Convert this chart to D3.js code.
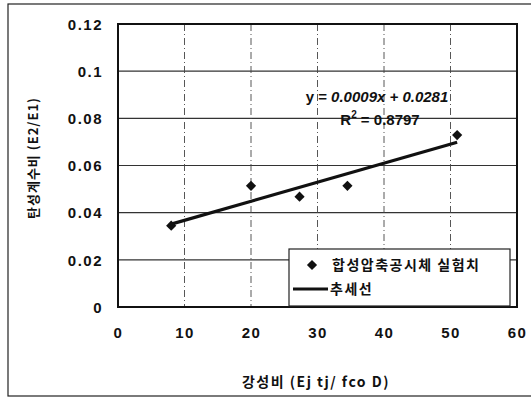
<!DOCTYPE html>
<html>
<head>
<meta charset="utf-8">
<script src="https://cdn.jsdelivr.net/npm/d3@7"></script>
<style>
body { margin: 0; background: #fff; }
text { font-family: "Liberation Sans", Arial, sans-serif; fill: #111; }
.kr { font-family: "Noto Sans CJK KR", sans-serif; }
</style>
</head>
<body>
<div id="chart"></div>
<script>
// stiffness ratio vs modulus ratio (test specimens)
let xValues = [8, 20, 27.3, 34.5, 51];
let yValues = [0.0345, 0.0514, 0.0468, 0.0514, 0.0729];
let xTicks = [0, 10, 20, 30, 40, 50, 60];
let yTicks = [0, 0.02, 0.04, 0.06, 0.08, 0.1, 0.12];
let yTickLabels = ["0", "0.02", "0.04", "0.06", "0.08", "0.1", "0.12"];
let eqText = "0.0009x + 0.0281";
let r2Text = "0.8797";
let legendLabels = ["합성압축공시체 실험치", "추세선"];

let W = 531, H = 398;
let margin = { top: 24, right: 14, bottom: 91, left: 118 };
let width = W - margin.left - margin.right;
let height = H - margin.top - margin.bottom;

let svg = d3.select("#chart").append("svg")
	.attr("width", W)
	.attr("height", H);

//outer frame
svg.append("rect")
	.attr("x", 8).attr("y", 4)
	.attr("width", W).attr("height", 392)
	.attr("fill", "none").attr("stroke", "#222").attr("stroke-width", 1.2);

let g = svg.append("g")
	.attr("transform", `translate(${margin.left}, ${margin.top})`);

let x = d3.scaleLinear().domain([0, 60]).range([0, width]);
let y = d3.scaleLinear().domain([0, 0.12]).range([height, 0]);

//grid lines
g.selectAll(".hgrid")
	.data(yTicks.slice(1, -1))
	.enter().append("line")
	.attr("x1", 0).attr("x2", width)
	.attr("y1", d => y(d)).attr("y2", d => y(d))
	.attr("stroke", "#333").attr("stroke-width", 1.1);
g.selectAll(".vgrid")
	.data(xTicks.slice(1, -1))
	.enter().append("line")
	.attr("y1", 0).attr("y2", height)
	.attr("x1", d => x(d)).attr("x2", d => x(d))
	.attr("stroke", "#444").attr("stroke-width", 0.9)
	.attr("stroke-dasharray", "7,3,1,3");

//plot border
g.append("rect")
	.attr("width", width).attr("height", height)
	.attr("fill", "none").attr("stroke", "#111").attr("stroke-width", 2);

//axes (tick labels only)
let xAxis = g.append("g")
	.attr("transform", `translate(0, ${height})`)
	.call(d3.axisBottom(x).tickValues(xTicks).tickSize(0).tickPadding(20));
let yAxis = g.append("g")
	.call(d3.axisLeft(y).tickValues(yTicks).tickSize(0).tickPadding(15)
		.tickFormat((d, i) => yTickLabels[i]));
[xAxis, yAxis].forEach(a => {
	a.select(".domain").remove();
	a.selectAll("text")
		.attr("font-family", "Liberation Sans, Arial, sans-serif")
		.attr("font-size", 15)
		.attr("font-weight", "bold")
		.attr("letter-spacing", 1.5)
		.attr("fill", "#111");
});
yAxis.selectAll("text").attr("dy", "0.35em");

//trend line (least squares on the data)
let mx = d3.mean(xValues), my = d3.mean(yValues);
let sxy = d3.sum(xValues, (v, i) => (v - mx) * (yValues[i] - my));
let sxx = d3.sum(xValues, v => (v - mx) * (v - mx));
let slope = sxy / sxx, icpt = my - slope * mx;
let xMin = d3.min(xValues), xMax = d3.max(xValues);
let trend = [[xMin, slope * xMin + icpt], [xMax, slope * xMax + icpt]];

g.append("path")
	.attr("d", d3.line().x(d => x(d[0])).y(d => y(d[1]))(trend))
	.attr("fill", "none").attr("stroke", "#111").attr("stroke-width", 3.2);

//data points (square turned 45deg)
let diamond = d3.symbol().type(d3.symbolSquare).size(52);
g.selectAll(".pt")
	.data(xValues)
	.enter().append("path")
	.attr("d", diamond)
	.attr("transform", (d, i) => `translate(${x(d)}, ${y(yValues[i])}) rotate(45)`)
	.attr("fill", "#111");

//equation
let eq = svg.append("text")
	.attr("x", 377).attr("y", 102)
	.attr("text-anchor", "middle")
	.attr("font-size", 15)
	.attr("font-weight", "bold");
eq.append("tspan").text("y = ");
eq.append("tspan").attr("font-style", "italic").text(eqText);
let r2 = svg.append("text")
	.attr("x", 380).attr("y", 125)
	.attr("text-anchor", "middle")
	.attr("font-size", 15)
	.attr("font-weight", "bold");
r2.append("tspan").text("R");
r2.append("tspan").attr("font-size", 10).attr("dy", -7).text("2");
r2.append("tspan").attr("dy", 7).text(" = " + r2Text);

//legend
let lg = svg.append("g").attr("transform", "translate(289, 249)");
lg.append("rect")
	.attr("width", 221).attr("height", 57)
	.attr("fill", "#fff").attr("stroke", "#222").attr("stroke-width", 1.2);
lg.append("path")
	.attr("d", diamond)
	.attr("transform", "translate(23, 16) rotate(45)")
	.attr("fill", "#111");
lg.append("text")
	.attr("class", "kr")
	.attr("x", 43).attr("y", 21)
	.attr("font-size", 14).attr("font-weight", "bold")
	.attr("letter-spacing", 1.5)
	.text(legendLabels[0]);
lg.append("line")
	.attr("x1", 4).attr("x2", 39).attr("y1", 40).attr("y2", 40)
	.attr("stroke", "#111").attr("stroke-width", 3.2);
lg.append("text")
	.attr("class", "kr")
	.attr("x", 41).attr("y", 45)
	.attr("font-size", 14).attr("font-weight", "bold")
	.attr("letter-spacing", 1.5)
	.text(legendLabels[1]);

//axis titles
svg.append("text")
	.attr("class", "kr")
	.attr("transform", "translate(38, 158) rotate(-90)")
	.attr("text-anchor", "middle")
	.attr("font-size", 13).attr("font-weight", "bold")
	.attr("letter-spacing", 1)
	.text("탄성계수비 (E2/E1)");
svg.append("text")
	.attr("class", "kr")
	.attr("x", 316).attr("y", 387)
	.attr("text-anchor", "middle")
	.attr("font-size", 14).attr("font-weight", "bold")
	.attr("letter-spacing", 1.5)
	.text("강성비 (Ej tj/ fco D)");
</script>
</body>
</html>
